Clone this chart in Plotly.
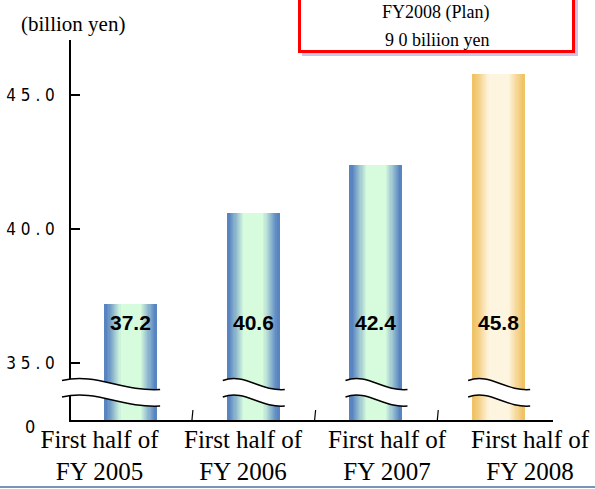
import plotly.graph_objects as go

# ---------------- data ----------------
categories = ["First half of<br>FY 2005", "First half of<br>FY 2006",
              "First half of<br>FY 2007", "First half of<br>FY 2008"]
values = [37.2, 40.6, 42.4, 45.8]
value_labels = ["37.2", "40.6", "42.4", "45.8"]
bar_kind = ["actual", "actual", "actual", "plan"]
y_tick_values = [35.0, 40.0, 45.0]
y_tick_labels = ["3 5 . 0", "4 0 . 0", "4 5 . 0"]
unit_label = "(billion yen)"
plan_title = "FY2008 (Plan)"
plan_text = "9 0 biliion yen"

# ---------------- layout constants ----------------
W, H = 595, 489
ML, MR, MT, MB = 71, 42, 40, 69
PW, PH = W - ML - MR, H - MT - MB
X_RANGE = [-0.486, 3.443]
Y_RANGE = [32.873, 47.052]
BAR_W = 0.432
LABEL_Y = 36.5
BREAK_Y = 380.5   # pixel row of the upper break wave (left end)
BREAK_GAP = 16.5
CAT_LABEL_PX = [99.5, 243, 387, 530]   # horizontal centres of the category labels

EDGE = {"actual": (88, 133, 194), "plan": (240, 195, 102)}
CENTER = {"actual": (215, 251, 221), "plan": (254, 245, 224)}

SERIF = "Liberation Serif, Times New Roman, serif"
NARROW = "Liberation Sans Narrow, Arial Narrow, DejaVu Sans Condensed, Liberation Sans, Arial"


def dx2px(x):
    return ML + (x - X_RANGE[0]) / (X_RANGE[1] - X_RANGE[0]) * PW


def px2dx(px):
    return X_RANGE[0] + (px - ML) / PW * (X_RANGE[1] - X_RANGE[0])


def px2paper_x(px):
    return (px - ML) / PW


def py2paper_y(py):
    return (H - MB - py) / PH


def mix(a, b, t):
    return "rgb(%d,%d,%d)" % tuple(round(a[i] + (b[i] - a[i]) * t) for i in range(3))


fig = go.Figure()

# gradient bars built from overlaid bars of decreasing width
N = 14
xs = list(range(len(values)))
for k in range(N):
    t = k / (N - 1)
    f = 0.0 if k == 0 else 0.04 + 0.27 * t
    width = BAR_W * (1 - 2 * f)
    colors = [mix(EDGE[kd], CENTER[kd], t) for kd in bar_kind]
    fig.add_trace(go.Bar(
        x=xs, y=[v - Y_RANGE[0] for v in values], base=Y_RANGE[0],
        width=width, marker=dict(color=colors, line=dict(width=0)),
        hoverinfo="skip", showlegend=False))

shapes = []
annotations = []

# value labels
for i, lab in enumerate(value_labels):
    annotations.append(dict(x=i, y=LABEL_Y, xref="x", yref="y", text="<b>%s</b>" % lab,
                            xanchor="center", yanchor="middle", showarrow=False,
                            font=dict(family="Liberation Sans, Arial", size=21, color="black")))

# category boundary ticks
for i in range(len(values) - 1):
    bx = px2paper_x(dx2px(i + 0.5))
    shapes.append(dict(type="line", xref="paper", yref="paper", x0=bx, x1=bx + 0.002,
                       y0=0, y1=py2paper_y(H - MB - 10), line=dict(color="black", width=1.2), layer="above"))


# axis break waves
def wave_pts(L, R, y0):
    w = R - L
    return [(L, y0), (L + 0.35 * w, y0 - 8), (L + 0.6 * w, y0 + 11), (R, y0 + 9)]


def fmt(p):
    return "%.5f,%.5f" % (px2paper_x(p[0]), py2paper_y(p[1]))


for i in range(len(values)):
    left = dx2px(i - BAR_W / 2)
    right = dx2px(i + BAR_W / 2)
    if i == 0:
        L, R = ML - 9, right + 3
    else:
        L, R = left - 4, right + 5
    up = wave_pts(L, R, BREAK_Y)
    lo = wave_pts(L, R, BREAK_Y + BREAK_GAP)
    fill_path = ("M" + fmt(up[0]) + " C" + fmt(up[1]) + " " + fmt(up[2]) + " " + fmt(up[3]) +
                 " L" + fmt(lo[3]) + " C" + fmt(lo[2]) + " " + fmt(lo[1]) + " " + fmt(lo[0]) + " Z")
    shapes.append(dict(type="path", xref="paper", yref="paper", path=fill_path,
                       fillcolor="white", line=dict(width=0), layer="above"))
    for pts in (up, lo):
        p = "M" + fmt(pts[0]) + " C" + fmt(pts[1]) + " " + fmt(pts[2]) + " " + fmt(pts[3])
        shapes.append(dict(type="path", xref="paper", yref="paper", path=p,
                           line=dict(color="black", width=1.5), layer="above"))

# plan box (shadow + red frame)
shapes.append(dict(type="rect", xref="paper", yref="paper",
                   x0=px2paper_x(302), x1=px2paper_x(578), y0=py2paper_y(56), y1=py2paper_y(-10),
                   fillcolor="#c8c5e6", line=dict(width=0), layer="above"))
shapes.append(dict(type="rect", xref="paper", yref="paper",
                   x0=px2paper_x(299.5), x1=px2paper_x(573.5), y0=py2paper_y(51.5), y1=py2paper_y(-10),
                   fillcolor="white", line=dict(color="#ff0000", width=3), layer="above"))


def paper_text(px, py, text, family, size):
    annotations.append(dict(x=px2paper_x(px), y=py2paper_y(py), xref="paper", yref="paper",
                            xanchor="center", yanchor="middle", text=text, showarrow=False,
                            font=dict(family=family, size=size, color="black")))


paper_text(436, 13, plan_title, SERIF, 18)
paper_text(437, 40, plan_text, SERIF, 18)
paper_text(73, 24, unit_label, SERIF, 21)
paper_text(30, 426, "0", NARROW, 18)

# bottom rule
shapes.append(dict(type="line", xref="paper", yref="paper",
                   x0=px2paper_x(0), x1=px2paper_x(W), y0=py2paper_y(487), y1=py2paper_y(487),
                   line=dict(color="#4d6fa3", width=1.5), layer="above"))

fig.update_layout(
    width=W, height=H,
    margin=dict(l=ML, r=MR, t=MT, b=MB, autoexpand=False),
    paper_bgcolor="white", plot_bgcolor="white",
    barmode="overlay", bargap=0,
    showlegend=False,
    shapes=shapes, annotations=annotations,
    xaxis=dict(range=X_RANGE, tickmode="array", tickvals=[px2dx(p) for p in CAT_LABEL_PX],
               ticktext=categories,
               showline=True, linecolor="black", linewidth=1.5, ticks="",
               showgrid=False, zeroline=False, ticklabelstandoff=-4,
               tickfont=dict(family=SERIF, size=25, color="black")),
    yaxis=dict(range=Y_RANGE, tickmode="array", tickvals=y_tick_values, ticktext=y_tick_labels,
               showline=True, linecolor="black", linewidth=1.5, ticks="inside", ticklen=9,
               tickcolor="black", tickwidth=1.5, showgrid=False, zeroline=False,
               ticklabelstandoff=11,
               tickfont=dict(family=NARROW, size=17, color="black")),
)

fig.write_html("out.html")
